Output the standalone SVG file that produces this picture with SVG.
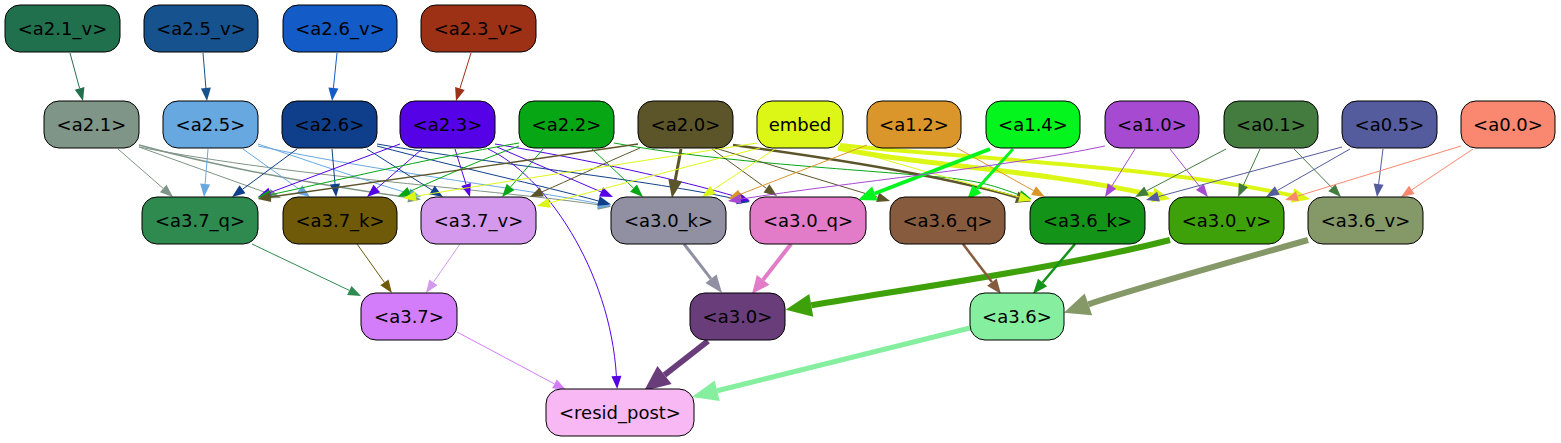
<svg xmlns="http://www.w3.org/2000/svg" width="1561" height="443" viewBox="0 0 1561 443">
<style>
.n rect{stroke:#000;stroke-width:1}
.n text{font-family:"DejaVu Sans","Liberation Sans",sans-serif;font-size:18px;text-anchor:middle;fill:#000}
#edges path{fill:none}
</style>
<defs>
<marker id="S-21v" markerUnits="userSpaceOnUse" markerWidth="13" markerHeight="10" refX="0" refY="5" orient="auto" overflow="visible"><path d="M0,0L13,5L0,10Z" fill="#21704d"/></marker>
<marker id="S-25v" markerUnits="userSpaceOnUse" markerWidth="13" markerHeight="10" refX="0" refY="5" orient="auto" overflow="visible"><path d="M0,0L13,5L0,10Z" fill="#16528e"/></marker>
<marker id="S-26v" markerUnits="userSpaceOnUse" markerWidth="13" markerHeight="10" refX="0" refY="5" orient="auto" overflow="visible"><path d="M0,0L13,5L0,10Z" fill="#135bc7"/></marker>
<marker id="S-23v" markerUnits="userSpaceOnUse" markerWidth="13" markerHeight="10" refX="0" refY="5" orient="auto" overflow="visible"><path d="M0,0L13,5L0,10Z" fill="#9d3116"/></marker>
<marker id="S-21" markerUnits="userSpaceOnUse" markerWidth="13" markerHeight="10" refX="0" refY="5" orient="auto" overflow="visible"><path d="M0,0L13,5L0,10Z" fill="#7f9587"/></marker>
<marker id="S-25" markerUnits="userSpaceOnUse" markerWidth="13" markerHeight="10" refX="0" refY="5" orient="auto" overflow="visible"><path d="M0,0L13,5L0,10Z" fill="#67a8e0"/></marker>
<marker id="S-26" markerUnits="userSpaceOnUse" markerWidth="13" markerHeight="10" refX="0" refY="5" orient="auto" overflow="visible"><path d="M0,0L13,5L0,10Z" fill="#0f3f8a"/></marker>
<marker id="S-23" markerUnits="userSpaceOnUse" markerWidth="13" markerHeight="10" refX="0" refY="5" orient="auto" overflow="visible"><path d="M0,0L13,5L0,10Z" fill="#5503e6"/></marker>
<marker id="S-22" markerUnits="userSpaceOnUse" markerWidth="13" markerHeight="10" refX="0" refY="5" orient="auto" overflow="visible"><path d="M0,0L13,5L0,10Z" fill="#06a614"/></marker>
<marker id="S-20" markerUnits="userSpaceOnUse" markerWidth="13" markerHeight="10" refX="0" refY="5" orient="auto" overflow="visible"><path d="M0,0L13,5L0,10Z" fill="#5c552a"/></marker>
<marker id="S-em" markerUnits="userSpaceOnUse" markerWidth="13" markerHeight="10" refX="0" refY="5" orient="auto" overflow="visible"><path d="M0,0L13,5L0,10Z" fill="#dcf716"/></marker>
<marker id="S-12" markerUnits="userSpaceOnUse" markerWidth="13" markerHeight="10" refX="0" refY="5" orient="auto" overflow="visible"><path d="M0,0L13,5L0,10Z" fill="#da962a"/></marker>
<marker id="S-10" markerUnits="userSpaceOnUse" markerWidth="13" markerHeight="10" refX="0" refY="5" orient="auto" overflow="visible"><path d="M0,0L13,5L0,10Z" fill="#a74ad2"/></marker>
<marker id="S-01" markerUnits="userSpaceOnUse" markerWidth="13" markerHeight="10" refX="0" refY="5" orient="auto" overflow="visible"><path d="M0,0L13,5L0,10Z" fill="#447c40"/></marker>
<marker id="S-05" markerUnits="userSpaceOnUse" markerWidth="13" markerHeight="10" refX="0" refY="5" orient="auto" overflow="visible"><path d="M0,0L13,5L0,10Z" fill="#545c9d"/></marker>
<marker id="S-00" markerUnits="userSpaceOnUse" markerWidth="13" markerHeight="10" refX="0" refY="5" orient="auto" overflow="visible"><path d="M0,0L13,5L0,10Z" fill="#fa8870"/></marker>
<marker id="S-37q" markerUnits="userSpaceOnUse" markerWidth="13" markerHeight="10" refX="0" refY="5" orient="auto" overflow="visible"><path d="M0,0L13,5L0,10Z" fill="#2e8a4e"/></marker>
<marker id="S-37k" markerUnits="userSpaceOnUse" markerWidth="13" markerHeight="10" refX="0" refY="5" orient="auto" overflow="visible"><path d="M0,0L13,5L0,10Z" fill="#6e5a08"/></marker>
<marker id="S-37v" markerUnits="userSpaceOnUse" markerWidth="13" markerHeight="10" refX="0" refY="5" orient="auto" overflow="visible"><path d="M0,0L13,5L0,10Z" fill="#d499ec"/></marker>
<marker id="S-37" markerUnits="userSpaceOnUse" markerWidth="13" markerHeight="10" refX="0" refY="5" orient="auto" overflow="visible"><path d="M0,0L13,5L0,10Z" fill="#d37dfa"/></marker>
<marker id="M-20" markerUnits="userSpaceOnUse" markerWidth="15" markerHeight="12" refX="0" refY="6" orient="auto" overflow="visible"><path d="M0,0L15,6L0,12Z" fill="#5c552a"/></marker>
<marker id="M-14" markerUnits="userSpaceOnUse" markerWidth="15" markerHeight="12" refX="0" refY="6" orient="auto" overflow="visible"><path d="M0,0L15,6L0,12Z" fill="#03f51d"/></marker>
<marker id="M-36q" markerUnits="userSpaceOnUse" markerWidth="15" markerHeight="12" refX="0" refY="6" orient="auto" overflow="visible"><path d="M0,0L15,6L0,12Z" fill="#875c3e"/></marker>
<marker id="M-36k" markerUnits="userSpaceOnUse" markerWidth="15" markerHeight="12" refX="0" refY="6" orient="auto" overflow="visible"><path d="M0,0L15,6L0,12Z" fill="#139318"/></marker>
<marker id="L-20" markerUnits="userSpaceOnUse" markerWidth="18" markerHeight="14" refX="0" refY="7" orient="auto" overflow="visible"><path d="M0,0L18,7L0,14Z" fill="#5c552a"/></marker>
<marker id="L-em" markerUnits="userSpaceOnUse" markerWidth="18" markerHeight="15" refX="0" refY="7.5" orient="auto" overflow="visible"><path d="M0,0L18,7.5L0,15Z" fill="#dcf716"/></marker>
<marker id="L-14" markerUnits="userSpaceOnUse" markerWidth="18" markerHeight="15" refX="0" refY="7.5" orient="auto" overflow="visible"><path d="M0,0L18,7.5L0,15Z" fill="#03f51d"/></marker>
<marker id="L-30k" markerUnits="userSpaceOnUse" markerWidth="18" markerHeight="14" refX="0" refY="7" orient="auto" overflow="visible"><path d="M0,0L18,7L0,14Z" fill="#9090a2"/></marker>
<marker id="L-30q" markerUnits="userSpaceOnUse" markerWidth="18" markerHeight="16" refX="0" refY="8" orient="auto" overflow="visible"><path d="M0,0L18,8L0,16Z" fill="#e27bc8"/></marker>
<marker id="XL-30v" markerUnits="userSpaceOnUse" markerWidth="26" markerHeight="23" refX="0" refY="11.5" orient="auto" overflow="visible"><path d="M0,0L26,11.5L0,23Z" fill="#3ea10a"/></marker>
<marker id="XL-36v" markerUnits="userSpaceOnUse" markerWidth="26" markerHeight="23" refX="0" refY="11.5" orient="auto" overflow="visible"><path d="M0,0L26,11.5L0,23Z" fill="#849868"/></marker>
<marker id="XL-30" markerUnits="userSpaceOnUse" markerWidth="26" markerHeight="23" refX="0" refY="11.5" orient="auto" overflow="visible"><path d="M0,0L26,11.5L0,23Z" fill="#693d7a"/></marker>
<marker id="XL-36" markerUnits="userSpaceOnUse" markerWidth="26" markerHeight="21" refX="0" refY="10.5" orient="auto" overflow="visible"><path d="M0,0L26,10.5L0,21Z" fill="#85ef9f"/></marker>
</defs>
<rect width="1561" height="443" fill="#fff"/>
<g id="edges">
<path d="M70,53L79.6,88.4" stroke="#21704d" marker-end="url(#S-21v)"/>
<path d="M203,53L205.9,88" stroke="#16528e" marker-end="url(#S-25v)"/>
<path d="M337,53L333.4,88.1" stroke="#135bc7" marker-end="url(#S-26v)"/>
<path d="M471,53L459.9,88.6" stroke="#9d3116" marker-end="url(#S-23v)"/>
<path d="M118,149L163.2,188.4" stroke="#7f9587" marker-end="url(#S-21)"/>
<path d="M139,147L268.8,193.6" stroke="#7f9587" marker-end="url(#S-21)"/>
<path d="M139,145C230,170 340,188 408.2,197.6" stroke="#7f9587" stroke-width="1.5" marker-end="url(#S-21)"/>
<path d="M139,147C300,178 500,190 598.2,204.8" stroke="#7f9587" marker-end="url(#S-21)"/>
<path d="M208,149L205.1,184" stroke="#67a8e0" marker-end="url(#S-25)"/>
<path d="M243,149L299.4,189.4" stroke="#67a8e0" marker-end="url(#S-25)"/>
<path d="M258,144C320,165 370,182 408.7,193.3" stroke="#67a8e0" marker-end="url(#S-25)"/>
<path d="M258,146C380,172 520,188 598.1,203.5" stroke="#67a8e0" marker-end="url(#S-25)"/>
<path d="M297,149L242.5,189.3" stroke="#0f3f8a" marker-end="url(#S-26)"/>
<path d="M332,149L335,184" stroke="#0f3f8a" marker-end="url(#S-26)"/>
<path d="M367,149L432,190.1" stroke="#0f3f8a" marker-end="url(#S-26)"/>
<path d="M377,146C460,168 540,185 598.5,201" stroke="#0f3f8a" marker-end="url(#S-26)"/>
<path d="M377,144C500,165 650,180 737.3,199.3" stroke="#0f3f8a" marker-end="url(#S-26)"/>
<path d="M400,144L270.2,192.5" stroke="#5503e6" marker-end="url(#S-23)"/>
<path d="M422,149L376.8,188.5" stroke="#5503e6" marker-end="url(#S-23)"/>
<path d="M455,149L466.1,184.6" stroke="#5503e6" marker-end="url(#S-23)"/>
<path d="M497,147L601.1,191.9" stroke="#5503e6" marker-end="url(#S-23)"/>
<path d="M495,144C590,160 680,180 737.5,197" stroke="#5503e6" marker-end="url(#S-23)"/>
<path d="M488,149C545,175 610,270 616.4,376" stroke="#5503e6" marker-end="url(#S-23)"/>
<path d="M519,143C420,160 330,182 270.3,194.8" stroke="#06a614" marker-end="url(#S-22)"/>
<path d="M519,146C480,160 440,178 409.5,191.5" stroke="#06a614" marker-end="url(#S-22)"/>
<path d="M543,149L510.5,187.1" stroke="#06a614" marker-end="url(#S-22)"/>
<path d="M592,149L633.5,188.1" stroke="#06a614" marker-end="url(#S-22)"/>
<path d="M614,143C720,163 870,170 950,178C985,182 1000,188 1019.4,194.9" stroke="#06a614" marker-end="url(#S-22)"/>
<path d="M638,144C520,162 370,182 270.5,197" stroke="#5c552a" stroke-width="1.5" marker-end="url(#S-20)"/>
<path d="M640,148C600,165 570,180 541.8,191.9" stroke="#5c552a" marker-end="url(#S-20)"/>
<path d="M681,149L675.2,180.3" stroke="#5c552a" stroke-width="3" marker-end="url(#L-20)"/>
<path d="M712,149L766.5,188.4" stroke="#5c552a" marker-end="url(#S-20)"/>
<path d="M715,148L877.6,197.2" stroke="#5c552a" marker-end="url(#S-20)"/>
<path d="M733,145C830,158 940,175 1016.6,197.2" stroke="#5c552a" stroke-width="2.5" marker-end="url(#M-20)"/>
<path d="M757,143C650,160 500,182 415.9,196.2" stroke="#dcf716" marker-end="url(#S-em)"/>
<path d="M760,148C680,168 600,190 549.5,202.8" stroke="#dcf716" marker-end="url(#S-em)"/>
<path d="M775,149L712.9,189.9" stroke="#dcf716" marker-end="url(#S-em)"/>
<path d="M843,147C900,165 970,184 1019.4,197.1" stroke="#dcf716" marker-end="url(#S-em)"/>
<path d="M838,148C900,163 1040,170 1152.8,195" stroke="#dcf716" stroke-width="5" marker-end="url(#L-em)"/>
<path d="M840,145C960,158 1150,165 1292.6,195.5" stroke="#dcf716" stroke-width="4" marker-end="url(#L-em)"/>
<path d="M867,145L740.1,194.3" stroke="#da962a" marker-end="url(#S-12)"/>
<path d="M957,148L1033.6,190.7" stroke="#da962a" marker-end="url(#S-12)"/>
<path d="M990,149L874.8,193.5" stroke="#03f51d" stroke-width="4" marker-end="url(#L-14)"/>
<path d="M1013,149L977,188.9" stroke="#03f51d" stroke-width="3" marker-end="url(#M-14)"/>
<path d="M1105,146C1000,168 850,182 740.7,199.1" stroke="#a74ad2" marker-end="url(#S-10)"/>
<path d="M1135,149L1111.9,186" stroke="#a74ad2" marker-end="url(#S-10)"/>
<path d="M1170,149L1199.9,186.8" stroke="#a74ad2" marker-end="url(#S-10)"/>
<path d="M1226,149L1146.5,190.9" stroke="#447c40" marker-end="url(#S-01)"/>
<path d="M1260,149L1243.4,185.2" stroke="#447c40" marker-end="url(#S-01)"/>
<path d="M1294,149L1331.9,187.7" stroke="#447c40" marker-end="url(#S-01)"/>
<path d="M1342,147L1158.5,196.6" stroke="#545c9d" marker-end="url(#S-05)"/>
<path d="M1350,149L1277.3,190.5" stroke="#545c9d" marker-end="url(#S-05)"/>
<path d="M1383,149L1378.6,184.1" stroke="#545c9d" marker-end="url(#S-05)"/>
<path d="M1461,146L1297.4,196.2" stroke="#fa8870" marker-end="url(#S-00)"/>
<path d="M1473,149L1411.8,189.8" stroke="#fa8870" marker-end="url(#S-00)"/>
<path d="M252,244L349.3,290.4" stroke="#2e8a4e" marker-end="url(#S-37q)"/>
<path d="M357,244L384.4,282.4" stroke="#6e5a08" marker-end="url(#S-37k)"/>
<path d="M460,244L433.4,282.3" stroke="#d499ec" marker-end="url(#S-37v)"/>
<path d="M684,244L711,278.8" stroke="#9090a2" stroke-width="3" marker-end="url(#L-30k)"/>
<path d="M791,244L763.1,279.8" stroke="#e27bc8" stroke-width="4" marker-end="url(#L-30q)"/>
<path d="M1170,240C1060,268 900,290 811.3,305.3" stroke="#3ea10a" stroke-width="6" marker-end="url(#XL-30v)"/>
<path d="M963,244L991.9,282.1" stroke="#875c3e" stroke-width="2.5" marker-end="url(#M-36q)"/>
<path d="M1075,244L1042.6,282.5" stroke="#139318" stroke-width="2.5" marker-end="url(#M-36k)"/>
<path d="M1308,240C1220,265 1130,290 1088.4,304.3" stroke="#849868" stroke-width="6" marker-end="url(#XL-36v)"/>
<path d="M457,332L554.5,383.9" stroke="#d37dfa" marker-end="url(#S-37)"/>
<path d="M708,341L664.5,375" stroke="#693d7a" stroke-width="6" marker-end="url(#XL-30)"/>
<path d="M970,328L717.2,390.7" stroke="#85ef9f" stroke-width="5" marker-end="url(#XL-36)"/>
</g>
<g id="n-a2.1_v" class="n"><rect x="5" y="5" width="115" height="47" rx="15" fill="#21704d"/><text x="62.5" y="35">&lt;a2.1_v&gt;</text></g>
<g id="n-a2.5_v" class="n"><rect x="144" y="5" width="114" height="47" rx="15" fill="#16528e"/><text x="201" y="35">&lt;a2.5_v&gt;</text></g>
<g id="n-a2.6_v" class="n"><rect x="283" y="5" width="114" height="47" rx="15" fill="#135bc7"/><text x="340" y="35">&lt;a2.6_v&gt;</text></g>
<g id="n-a2.3_v" class="n"><rect x="421" y="5" width="115" height="47" rx="15" fill="#9d3116"/><text x="478.5" y="35">&lt;a2.3_v&gt;</text></g>
<g id="n-a2.1" class="n"><rect x="44" y="101" width="95" height="47" rx="15" fill="#7f9587"/><text x="91.5" y="131">&lt;a2.1&gt;</text></g>
<g id="n-a2.5" class="n"><rect x="163" y="101" width="95" height="47" rx="15" fill="#67a8e0"/><text x="210.5" y="131">&lt;a2.5&gt;</text></g>
<g id="n-a2.6" class="n"><rect x="282" y="101" width="95" height="47" rx="15" fill="#0f3f8a"/><text x="329.5" y="131">&lt;a2.6&gt;</text></g>
<g id="n-a2.3" class="n"><rect x="400" y="101" width="95" height="47" rx="15" fill="#5503e6"/><text x="447.5" y="131">&lt;a2.3&gt;</text></g>
<g id="n-a2.2" class="n"><rect x="519" y="101" width="95" height="47" rx="15" fill="#06a614"/><text x="566.5" y="131">&lt;a2.2&gt;</text></g>
<g id="n-a2.0" class="n"><rect x="638" y="101" width="95" height="47" rx="15" fill="#5c552a"/><text x="685.5" y="131">&lt;a2.0&gt;</text></g>
<g id="n-embed" class="n"><rect x="757" y="101" width="86" height="47" rx="15" fill="#dcf716"/><text x="800" y="131">embed</text></g>
<g id="n-a1.2" class="n"><rect x="867" y="101" width="94" height="47" rx="15" fill="#da962a"/><text x="914" y="131">&lt;a1.2&gt;</text></g>
<g id="n-a1.4" class="n"><rect x="986" y="101" width="94" height="47" rx="15" fill="#03f51d"/><text x="1033" y="131">&lt;a1.4&gt;</text></g>
<g id="n-a1.0" class="n"><rect x="1105" y="101" width="94" height="47" rx="15" fill="#a74ad2"/><text x="1152" y="131">&lt;a1.0&gt;</text></g>
<g id="n-a0.1" class="n"><rect x="1224" y="101" width="94" height="47" rx="15" fill="#447c40"/><text x="1271" y="131">&lt;a0.1&gt;</text></g>
<g id="n-a0.5" class="n"><rect x="1342" y="101" width="95" height="47" rx="15" fill="#545c9d"/><text x="1389.5" y="131">&lt;a0.5&gt;</text></g>
<g id="n-a0.0" class="n"><rect x="1461" y="101" width="94" height="47" rx="15" fill="#fa8870"/><text x="1508" y="131">&lt;a0.0&gt;</text></g>
<g id="n-a3.7_q" class="n"><rect x="142" y="197" width="116" height="47" rx="15" fill="#2e8a4e"/><text x="200" y="227">&lt;a3.7_q&gt;</text></g>
<g id="n-a3.7_k" class="n"><rect x="283" y="197" width="114" height="47" rx="15" fill="#6e5a08"/><text x="340" y="227">&lt;a3.7_k&gt;</text></g>
<g id="n-a3.7_v" class="n"><rect x="421" y="197" width="115" height="47" rx="15" fill="#d499ec"/><text x="478.5" y="227">&lt;a3.7_v&gt;</text></g>
<g id="n-a3.0_k" class="n"><rect x="611" y="197" width="115" height="47" rx="15" fill="#9090a2"/><text x="668.5" y="227">&lt;a3.0_k&gt;</text></g>
<g id="n-a3.0_q" class="n"><rect x="750" y="197" width="116" height="47" rx="15" fill="#e27bc8"/><text x="808" y="227">&lt;a3.0_q&gt;</text></g>
<g id="n-a3.6_q" class="n"><rect x="890" y="197" width="115" height="47" rx="15" fill="#875c3e"/><text x="947.5" y="227">&lt;a3.6_q&gt;</text></g>
<g id="n-a3.6_k" class="n"><rect x="1030" y="197" width="115" height="47" rx="15" fill="#139318"/><text x="1087.5" y="227">&lt;a3.6_k&gt;</text></g>
<g id="n-a3.0_v" class="n"><rect x="1169" y="197" width="115" height="47" rx="15" fill="#3ea10a"/><text x="1226.5" y="227">&lt;a3.0_v&gt;</text></g>
<g id="n-a3.6_v" class="n"><rect x="1308" y="197" width="115" height="47" rx="15" fill="#849868"/><text x="1365.5" y="227">&lt;a3.6_v&gt;</text></g>
<g id="n-a3.7" class="n"><rect x="361" y="293" width="96" height="47" rx="15" fill="#d37dfa"/><text x="409" y="323">&lt;a3.7&gt;</text></g>
<g id="n-a3.0" class="n"><rect x="690" y="293" width="95" height="47" rx="15" fill="#693d7a"/><text x="737.5" y="323">&lt;a3.0&gt;</text></g>
<g id="n-a3.6" class="n"><rect x="970" y="293" width="94" height="47" rx="15" fill="#85ef9f"/><text x="1017" y="323">&lt;a3.6&gt;</text></g>
<g id="n-resid_post" class="n"><rect x="546" y="389" width="148" height="47" rx="15" fill="#f7b8f4"/><text x="620" y="419">&lt;resid_post&gt;</text></g>
</svg>
